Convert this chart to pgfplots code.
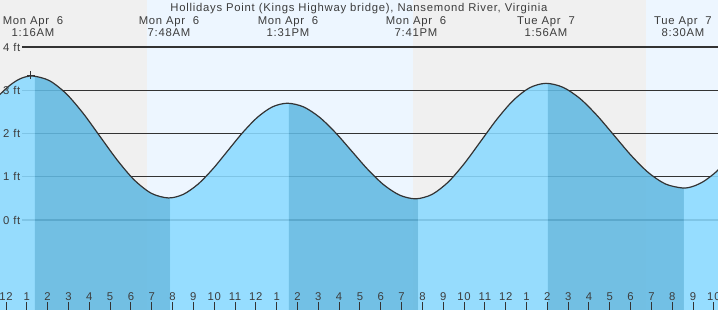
\documentclass[border=0pt]{standalone}
\usepackage{pgfplots}
\pgfplotsset{compat=1.18}
\usepackage{pgfplotstable}
\usepgfplotslibrary{fillbetween}
\usepackage{fontspec}
\setmainfont{Liberation Sans}[LetterSpace=6.6]
\definecolor{nightbg}{RGB}{240,240,240}
\definecolor{daybg}{RGB}{237,246,255}
\definecolor{lightfill}{RGB}{138,218,255}
\definecolor{darkfill}{RGB}{97,185,226}
\definecolor{ink}{RGB}{51,51,51}
\definecolor{txt}{RGB}{60,60,60}
\pgfplotstableread{
t ft
-0.30 2.90
0.20 3.12
0.70 3.27
1.267 3.33
2.083 3.223
2.900 2.917
3.716 2.460
4.533 1.920
5.350 1.381
6.166 0.923
6.983 0.617
7.800 0.51
8.515 0.593
9.229 0.831
9.944 1.186
10.658 1.605
11.373 2.024
12.088 2.379
12.802 2.617
13.517 2.70
14.288 2.616
15.059 2.376
15.829 2.018
16.600 1.595
17.371 1.172
18.142 0.814
18.912 0.574
19.683 0.49
20.464 0.592
21.246 0.881
22.027 1.314
22.808 1.825
23.589 2.336
24.371 2.769
25.152 3.058
25.933 3.16
26.754 3.068
27.575 2.806
28.396 2.413
29.217 1.950
30.037 1.487
30.858 1.094
31.679 0.832
32.500 0.74
33.0 0.778
33.5 0.890
34.0 1.068
34.3 1.203
}\tide
\def\lf{\fontsize{11.3bp}{13bp}\selectfont}
\begin{document}
\begin{tikzpicture}
\begin{axis}[
  at={(0,0)}, anchor=south west,
  scale only axis, width=718bp, height=310bp,
  xmin=-0.2882, xmax=34.198, ymin=-2.081, ymax=5.087,
  set layers,
  axis line style={draw=none},
  axis on top=true,
  xtick={0,...,34},
  xticklabels={12,1,2,3,4,5,6,7,8,9,10,11,12,1,2,3,4,5,6,7,8,9,10,11,12,1,2,3,4,5,6,7,8,9,10},
  xtick pos=bottom,
  tick align=inside,
  major tick length=8bp,
  xtick style={color=ink, line width=1bp},
  extra x ticks={0,24},
  extra x tick labels={\empty,\empty},
  extra x tick style={tick style={line width=3bp, color=ink}},
  xticklabel style={anchor=base, yshift=10bp, text=txt, font=\lf},
  ytick=\empty,
]
\begin{pgfonlayer}{axis background}
\fill[nightbg] (axis cs:-0.5,-2.2) rectangle (axis cs:6.77,5.2);
\fill[daybg] (axis cs:6.77,-2.2) rectangle (axis cs:19.55,5.2);
\fill[nightbg] (axis cs:19.55,-2.2) rectangle (axis cs:30.74,5.2);
\fill[daybg] (axis cs:30.74,-2.2) rectangle (axis cs:34.5,5.2);
\draw[ink, line width=1.1bp] (axis cs:0.768,4) -- (axis cs:34.5,4);
\draw[ink, line width=1.1bp] (axis cs:0.768,3) -- (axis cs:34.5,3);
\draw[ink, line width=1.1bp] (axis cs:0.768,2) -- (axis cs:34.5,2);
\draw[ink, line width=1.1bp] (axis cs:0.768,1) -- (axis cs:34.5,1);
\draw[ink, line width=1.1bp] (axis cs:0.768,0) -- (axis cs:34.5,0);
\end{pgfonlayer}
% curve path and base
\addplot[draw=none, smooth, name path=curve] table[x=t,y=ft] {\tide};
\addplot[draw=none, name path=base] coordinates {(-0.5,-2.2) (34.5,-2.2)};
% fills
\addplot[lightfill, fill opacity=0.88] fill between[of=curve and base, soft clip={domain=-0.5:1.39}];
\addplot[darkfill, fill opacity=0.88] fill between[of=curve and base, soft clip={domain=1.39:7.88}];
\addplot[lightfill, fill opacity=0.88] fill between[of=curve and base, soft clip={domain=7.88:13.59}];
\addplot[darkfill, fill opacity=0.88] fill between[of=curve and base, soft clip={domain=13.59:19.79}];
\addplot[lightfill, fill opacity=0.88] fill between[of=curve and base, soft clip={domain=19.79:26.03}];
\addplot[darkfill, fill opacity=0.88] fill between[of=curve and base, soft clip={domain=26.03:32.56}];
\addplot[lightfill, fill opacity=0.88] fill between[of=curve and base, soft clip={domain=32.56:34.5}];
% curve line
\addplot[ink, line width=1.2bp, smooth] table[x=t,y=ft] {\tide};
% marker
\addplot[ink, only marks, mark=+, mark size=4bp, mark options={line width=1bp}] coordinates {(1.19,3.35)};
% y labels
\node[anchor=west, inner sep=0pt, xshift=3bp, text=txt, font=\lf] at (axis cs:-0.2882,0) {0 ft};
\node[anchor=west, inner sep=0pt, xshift=3bp, text=txt, font=\lf] at (axis cs:-0.2882,1) {1 ft};
\node[anchor=west, inner sep=0pt, xshift=3bp, text=txt, font=\lf] at (axis cs:-0.2882,2) {2 ft};
\node[anchor=west, inner sep=0pt, xshift=3bp, text=txt, font=\lf] at (axis cs:-0.2882,3) {3 ft};
\node[anchor=west, inner sep=0pt, xshift=3bp, text=txt, font=\lf] at (axis cs:-0.2882,4) {4 ft};
% title
\node[anchor=base, inner sep=0pt, text=txt, font=\lf] at (axis cs:16.955,4.832) {Hollidays Point (Kings Highway bridge), Nansemond River, Virginia};
% extremes
\node[anchor=base, inner sep=0pt, text=txt, font=\lf] at (axis cs:1.297,4.532) {Mon Apr\ \ 6};
\node[anchor=base, inner sep=0pt, text=txt, font=\lf] at (axis cs:1.297,4.254) {1:16AM};
\node[anchor=base, inner sep=0pt, text=txt, font=\lf] at (axis cs:7.829,4.532) {Mon Apr\ \ 6};
\node[anchor=base, inner sep=0pt, text=txt, font=\lf] at (axis cs:7.829,4.254) {7:48AM};
\node[anchor=base, inner sep=0pt, text=txt, font=\lf] at (axis cs:13.545,4.532) {Mon Apr\ \ 6};
\node[anchor=base, inner sep=0pt, text=txt, font=\lf] at (axis cs:13.545,4.254) {1:31PM};
\node[anchor=base, inner sep=0pt, text=txt, font=\lf] at (axis cs:19.693,4.532) {Mon Apr\ \ 6};
\node[anchor=base, inner sep=0pt, text=txt, font=\lf] at (axis cs:19.693,4.254) {7:41PM};
\node[anchor=base, inner sep=0pt, text=txt, font=\lf] at (axis cs:25.937,4.532) {Tue Apr\ \ 7};
\node[anchor=base, inner sep=0pt, text=txt, font=\lf] at (axis cs:25.937,4.254) {1:56AM};
\node[anchor=base, inner sep=0pt, text=txt, font=\lf] at (axis cs:32.517,4.532) {Tue Apr\ \ 7};
\node[anchor=base, inner sep=0pt, text=txt, font=\lf] at (axis cs:32.517,4.254) {8:30AM};
\end{axis}
\pgfresetboundingbox
\useasboundingbox (current axis.south west) rectangle (current axis.north east);
\end{tikzpicture}
\end{document}
